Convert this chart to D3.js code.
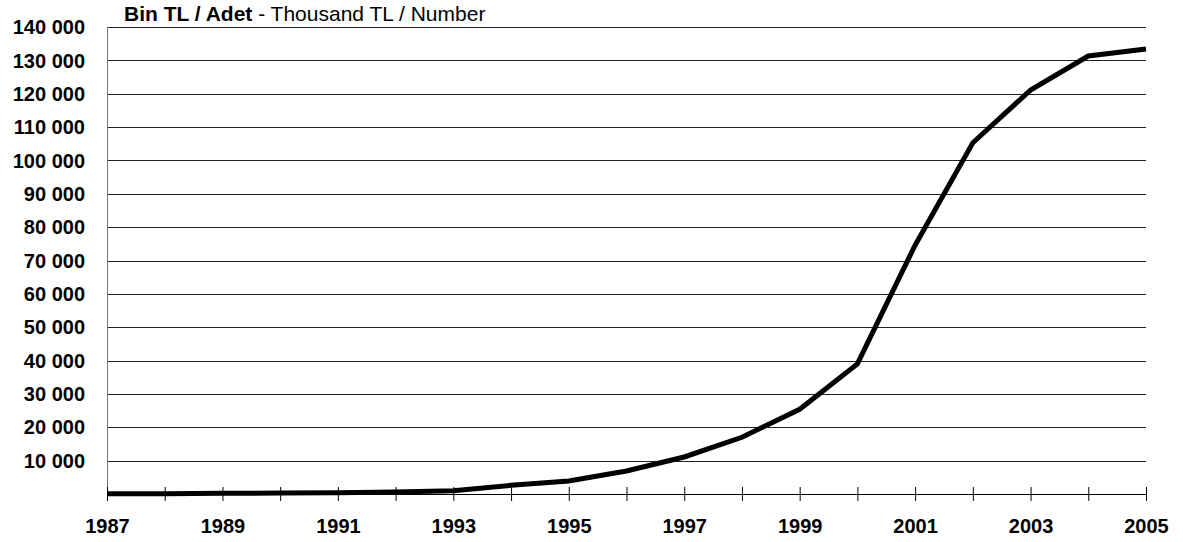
<!DOCTYPE html>
<html>
<head>
<meta charset="utf-8">
<script src="https://cdn.jsdelivr.net/npm/d3@7"></script>
<style>
  body { margin: 0; background: #fff; }
  text { font-family: "Liberation Sans", Arial, sans-serif; }
</style>
</head>
<body>
<svg id="chart" width="1183" height="542"></svg>
<script>
// data
const years = [1987, 1988, 1989, 1990, 1991, 1992, 1993, 1994, 1995, 1996,
  1997, 1998, 1999, 2000, 2001, 2002, 2003, 2004, 2005];
const values = [50, 100, 200, 300, 400, 600, 1000, 2600, 3900, 6900,
  11100, 17000, 25400, 39000, 74600, 105300, 121100, 131300, 133400];
const yTicks = [10000, 20000, 30000, 40000, 50000, 60000, 70000,
  80000, 90000, 100000, 110000, 120000, 130000, 140000];
const yearLabels = [1987, 1989, 1991, 1993, 1995, 1997, 1999, 2001, 2003, 2005];

const svg = d3.select("#chart");
const plotL = 107, plotR = 1146, plotT = 27, plotB = 494;

const x = d3.scaleLinear().domain([1987, 2005]).range([plotL, plotR]);
const y = d3.scaleLinear().domain([0, 140000]).range([plotB, plotT]);

const fmt = v => d3.format(",")(v).replace(/,/g, " ");

// gridlines
svg.append("g")
  .selectAll("line")
  .data(yTicks)
  .join("line")
  .attr("x1", plotL).attr("x2", plotR)
  .attr("y1", d => Math.round(y(d)) + 0.5).attr("y2", d => Math.round(y(d)) + 0.5)
  .attr("stroke", "#222").attr("stroke-width", 1);

// y axis labels
svg.append("g")
  .selectAll("text")
  .data(yTicks)
  .join("text")
  .attr("x", 85).attr("y", d => y(d))
  .attr("dy", "0.36em")
  .attr("text-anchor", "end")
  .attr("font-size", 20).attr("font-weight", "bold")
  .text(fmt);

// left axis line
svg.append("line")
  .attr("x1", plotL + 0.5).attr("x2", plotL + 0.5)
  .attr("y1", plotT).attr("y2", plotB)
  .attr("stroke", "#777").attr("stroke-width", 1);

// x axis
const xAxis = d3.axisBottom(x)
  .tickValues(years)
  .tickSize(7)
  .tickFormat(d => yearLabels.includes(d) ? d : "");
const gx = svg.append("g")
  .attr("transform", `translate(0,${plotB})`)
  .call(xAxis);
gx.select(".domain").attr("stroke", "#000").attr("d", `M${plotL},0.5H${plotR}`);
gx.selectAll(".tick line").attr("y1", -7).attr("stroke", "#000");
gx.selectAll(".tick text")
  .attr("y", 39).attr("dy", null)
  .attr("font-size", 20).attr("font-weight", "bold")
  .attr("font-family", "Liberation Sans, Arial, sans-serif")
  .attr("fill", "#000");

// series line
const line = d3.line()
  .x((d, i) => x(years[i]))
  .y(d => y(d));
svg.append("path")
  .datum(values)
  .attr("d", line)
  .attr("fill", "none")
  .attr("stroke", "#000")
  .attr("stroke-width", 5)
  .attr("stroke-linejoin", "miter");

// title
const title = svg.append("text")
  .attr("x", 124).attr("y", 21)
  .attr("font-size", 21);
title.append("tspan").attr("font-weight", "bold").text("Bin TL / Adet");
title.append("tspan").text(" - Thousand TL / Number");
</script>
</body>
</html>
